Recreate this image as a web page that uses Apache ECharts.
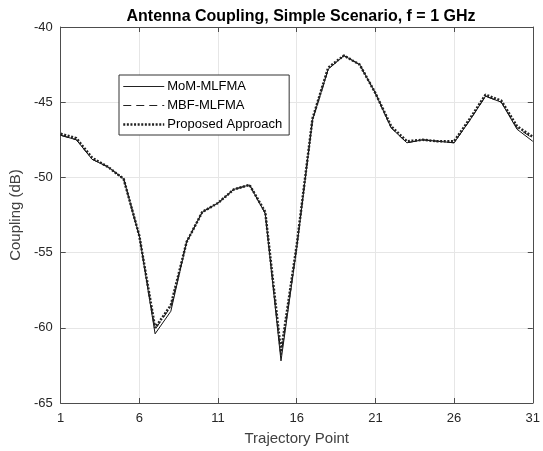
<!DOCTYPE html>
<html>
<head>
<meta charset="utf-8">
<script src="https://cdn.jsdelivr.net/npm/echarts@6/dist/echarts.min.js"></script>
<style>
  html, body { margin: 0; padding: 0; background: #fff; }
  #chart { width: 543px; height: 451px; }
</style>
</head>
<body>
<div id="chart"></div>
<script>
// trajectory points 1..31
const points = Array.from({ length: 31 }, (_, i) => String(i + 1))

const momMlfma = [
  -47.2, -47.5, -48.8, -49.3, -50.1, -53.9, -60.4, -58.9, -54.3, -52.3,
  -51.7, -50.8, -50.5, -52.4, -62.2, -54.7, -46.2, -42.8, -41.9, -42.5,
  -44.4, -46.7, -47.7, -47.5, -47.6, -47.7, -46.2, -44.6, -45.0, -46.8, -47.6
]
const mbfMlfma = [
  -47.2, -47.5, -48.8, -49.3, -50.1, -53.9, -60.1, -58.6, -54.3, -52.3,
  -51.7, -50.8, -50.5, -52.4, -61.8, -54.6, -46.2, -42.8, -41.9, -42.5,
  -44.4, -46.7, -47.7, -47.5, -47.6, -47.7, -46.2, -44.6, -45.0, -46.7, -47.4
]
const proposed = [
  -47.1, -47.4, -48.7, -49.3, -50.1, -53.9, -60.0, -58.5, -54.3, -52.3,
  -51.7, -50.8, -50.5, -52.3, -61.6, -54.5, -46.1, -42.7, -41.9, -42.5,
  -44.4, -46.6, -47.6, -47.5, -47.6, -47.6, -46.1, -44.5, -44.9, -46.6, -47.3
]

const chart = echarts.init(document.getElementById('chart'))
const font = 'Liberation Sans, Arial, Helvetica, sans-serif'
const axisCol = '#4d4d4d'

option = {
  animation: false,
  backgroundColor: '#fff',
  title: {
    text: 'Antenna Coupling, Simple Scenario, f = 1 GHz',
    left: 296,
    textAlign: 'center',
    top: 4,
    textStyle: { fontFamily: font, fontSize: 16, fontWeight: 'bold', color: '#000' }
  },
  legend: {
    orient: 'vertical',
    left: 119,
    top: 75,
    itemWidth: 41,
    itemHeight: 12,
    itemGap: 6,
    padding: [5, 7, 4, 3],
    borderColor: '#333',
    borderWidth: 1,
    borderRadius: 0,
    backgroundColor: '#fff',
    itemStyle: { opacity: 0 },
    textStyle: { fontFamily: font, fontSize: 13, color: '#000', padding: [0, 0, 0, -2] },
    data: [
      { name: 'MoM-MLFMA', lineStyle: { width: 1, color: '#222' } },
      { name: 'MBF-MLFMA', lineStyle: { width: 1, color: '#222', type: [8, 5] } },
      { name: 'Proposed Approach', lineStyle: { width: 2.5, color: '#222', type: [2, 1.6] } }
    ]
  },
  grid: { left: 59, right: 6, top: 27, bottom: 48 },
  xAxis: [
    {
      type: 'category',
      data: points,
      boundaryGap: false,
      name: 'Trajectory Point',
      nameLocation: 'middle',
      nameGap: 28,
      nameTextStyle: { fontFamily: font, fontSize: 15, color: '#404040' },
      axisLine: { lineStyle: { color: axisCol } },
      axisTick: { inside: true, interval: 4, length: 5, lineStyle: { color: axisCol } },
      axisLabel: { interval: 4, fontFamily: font, fontSize: 13, color: '#262626', margin: 9 },
      splitLine: { show: true, interval: 4, lineStyle: { color: '#e6e6e6' } }
    },
    {
      type: 'category',
      data: points,
      boundaryGap: false,
      position: 'top',
      axisLine: { lineStyle: { color: axisCol } },
      axisTick: { inside: true, interval: 4, length: 5, lineStyle: { color: axisCol } },
      axisLabel: { show: false },
      splitLine: { show: false }
    }
  ],
  yAxis: [
    {
      type: 'value',
      min: -65,
      max: -40,
      interval: 5,
      name: 'Coupling (dB)',
      nameLocation: 'middle',
      nameGap: 30,
      nameTextStyle: { fontFamily: font, fontSize: 15, color: '#404040' },
      axisLine: { show: true, lineStyle: { color: axisCol } },
      axisTick: { show: true, inside: true, length: 5, lineStyle: { color: axisCol } },
      axisLabel: { fontFamily: font, fontSize: 13, color: '#262626', margin: 8 },
      splitLine: { show: true, lineStyle: { color: '#e6e6e6' } }
    },
    {
      type: 'value',
      min: -65,
      max: -40,
      interval: 5,
      position: 'right',
      axisLine: { show: true, lineStyle: { color: axisCol } },
      axisTick: { show: true, inside: true, length: 5, lineStyle: { color: axisCol } },
      axisLabel: { show: false },
      splitLine: { show: false }
    }
  ],
  series: [
    {
      name: 'MoM-MLFMA',
      type: 'line',
      data: momMlfma,
      symbol: 'none',
      itemStyle: { color: '#111' },
      lineStyle: { color: '#111', width: 1 }
    },
    {
      name: 'MBF-MLFMA',
      type: 'line',
      data: mbfMlfma,
      symbol: 'none',
      itemStyle: { color: '#111' },
      lineStyle: { color: '#111', width: 1, type: [8, 5] }
    },
    {
      name: 'Proposed Approach',
      type: 'line',
      data: proposed,
      symbol: 'none',
      itemStyle: { color: '#222' },
      lineStyle: { color: '#222', width: 2.5, type: [2, 1.6] }
    }
  ]
}

chart.setOption(option)
</script>
</body>
</html>
